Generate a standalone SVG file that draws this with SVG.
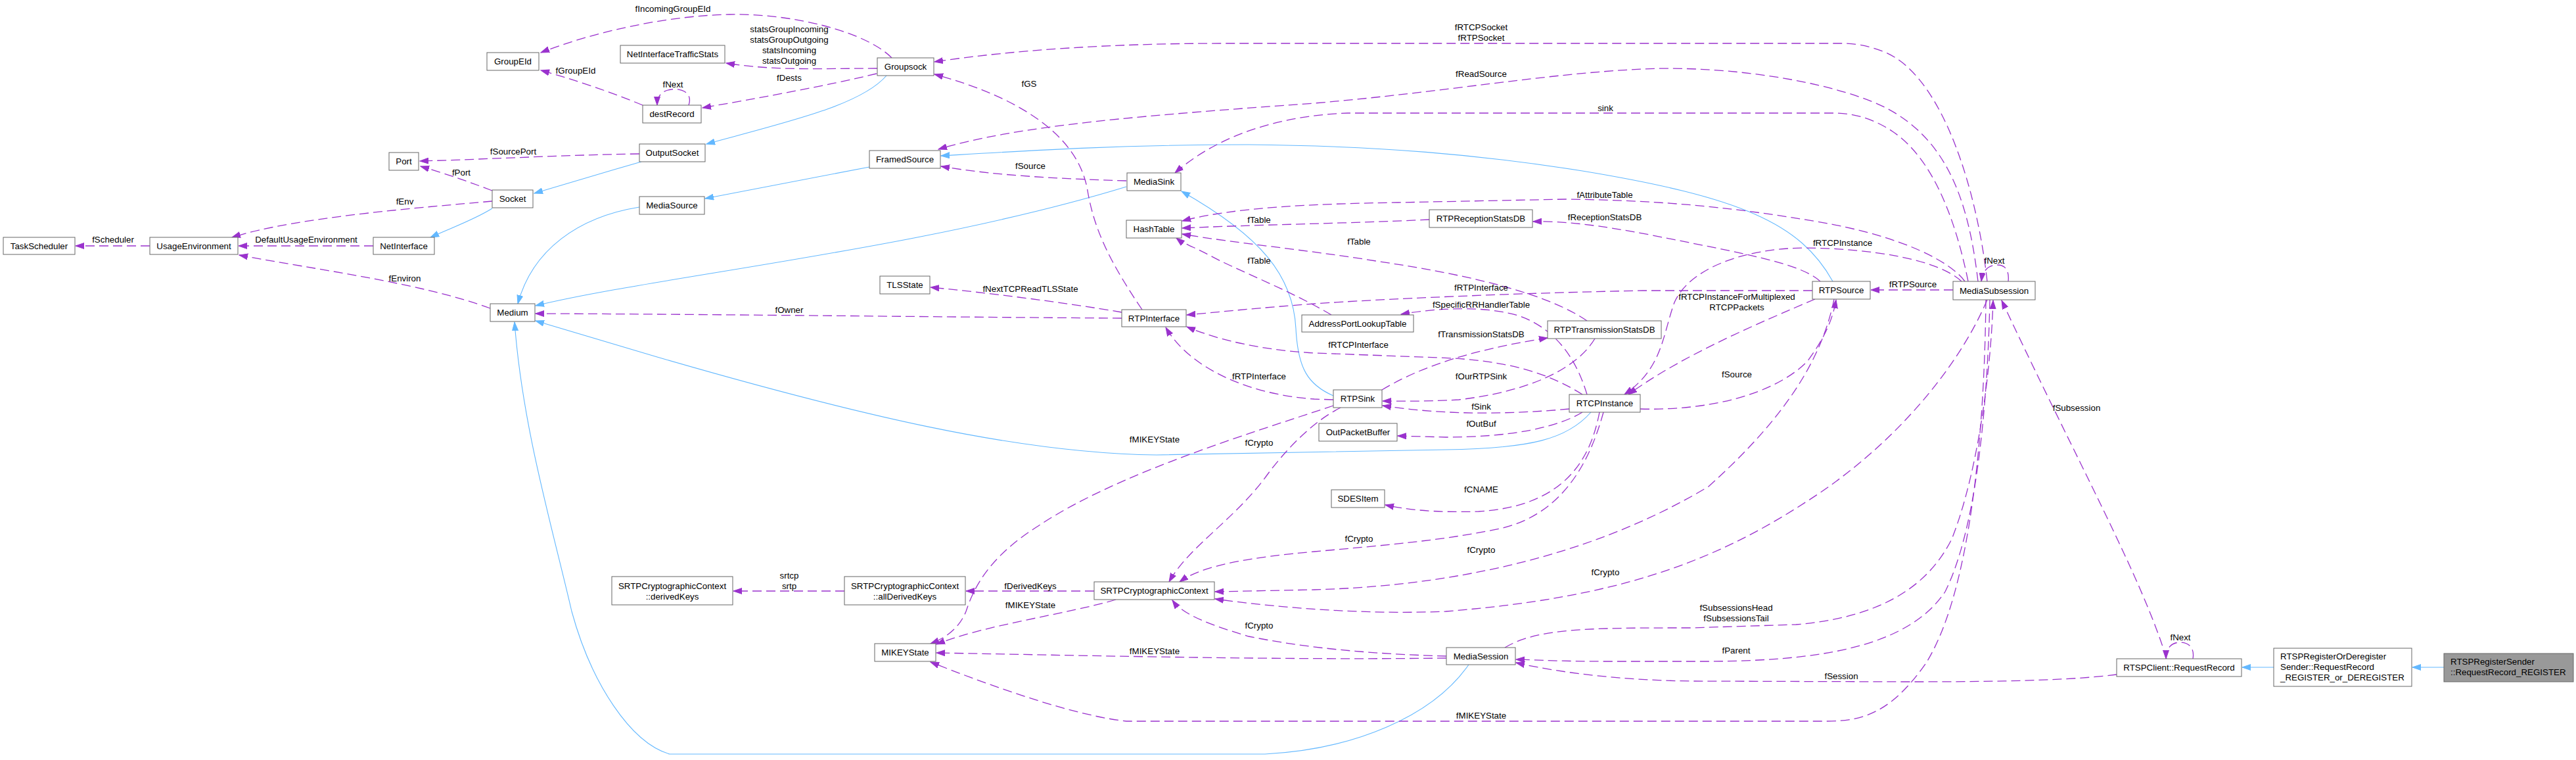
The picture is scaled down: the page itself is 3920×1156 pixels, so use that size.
<svg xmlns="http://www.w3.org/2000/svg" width="3920" height="1156" viewBox="0 0 3920 1156">
<defs>
<style>
text{font-family:"Liberation Sans",Arial,Helvetica,sans-serif;font-size:13.33px;fill:#000}
.node rect{fill:#fff;stroke:#666;stroke-width:1}
.node text{text-anchor:middle}
.node.hl rect{fill:#999}
.node .l{text-anchor:start}
.e{fill:none;stroke:#9a32cd;stroke-width:1.3;stroke-dasharray:14,7;marker-end:url(#ap)}
.b{fill:none;stroke:#63b8ff;stroke-width:1.1;marker-end:url(#ab)}
.lbl text{text-anchor:middle}
</style>
<marker id="ap" markerWidth="14" markerHeight="10" refX="13" refY="5" orient="auto" markerUnits="userSpaceOnUse"><path d="M0,0.5 L13,5 L0,9.5 z" fill="#9a32cd" stroke="#9a32cd" stroke-width="1"/></marker>
<marker id="ab" markerWidth="14" markerHeight="10" refX="13" refY="5" orient="auto" markerUnits="userSpaceOnUse"><path d="M0,0.5 L13,5 L0,9.5 z" fill="#63b8ff" stroke="#63b8ff" stroke-width="1"/></marker>
</defs>
<rect width="3920" height="1156" fill="#fff"/>
<g id="edges">
<path class="e" d="M1357,88 C1320,50 1210,20 1110,22 C1010,24 900,50 823,80"/>
<path class="e" d="M1335,104 C1250,104 1180,108 1105,96"/>
<path class="e" d="M1334,112 C1260,130 1150,150 1069,164"/>
<path class="e" d="M1048,160 C1055,140 1035,134 1022,136 C1005,138 1000,148 1000,160"/>
<path class="e" d="M978,160 C930,140 870,120 823,107"/>
<path class="b" d="M1349,115 C1310,160 1200,185 1075,219"/>
<path class="e" d="M973,234 C850,236 750,242 639,245"/>
<path class="b" d="M976,246 C920,262 860,280 813,294"/>
<path class="e" d="M749,290 C710,275 680,265 640,253"/>
<path class="e" d="M749,306 C650,315 450,330 353,361"/>
<path class="b" d="M749,317 C720,335 690,345 655,361"/>
<path class="e" d="M228,374 L115,374"/>
<path class="e" d="M568,374 L363,374"/>
<path class="e" d="M746,469 C640,430 480,410 364,388"/>
<path class="b" d="M973,315 C880,330 810,380 788,462"/>
<path class="b" d="M1323,254 L1073,302"/>
<path class="b" d="M1714,284 C1400,380 1000,420 815,465"/>
<path class="e" d="M1707,484 C1400,482 1100,478 815,477"/>
<path class="b" d="M2421,627 C2385,668 2330,682 2200,684 L1760,692 C1550,690 1300,630 1000,543 L815,488"/>
<path class="b" d="M2235,1011 C2180,1090 2060,1140 1925,1147 L1019,1147 C960,1130 900,1040 870,930 C840,800 795,650 783,490"/>
<path class="b" d="M2029,602 C1990,585 1975,560 1972,500 C1968,420 1920,360 1798,291"/>
<path class="b" d="M2789,428 C2740,340 2650,300 2408,260 C2250,235 2100,222 1900,220 C1700,220 1550,230 1432,237"/>
<path class="e" d="M1714,275 C1620,272 1520,268 1432,253"/>
<path class="e" d="M1707,475 C1620,460 1500,445 1416,437"/>
<path class="e" d="M1738,471 C1690,400 1665,350 1655,290 C1640,200 1540,145 1422,113"/>
<path class="e" d="M3024,428 C3010,300 2960,120 2870,80 C2840,68 2820,66 2800,66 L1861,66 C1700,66 1550,75 1422,94"/>
<path class="e" d="M3010,428 C2995,300 2960,200 2850,155 C2750,115 2600,100 2500,105 C2350,112 2200,140 2000,157 C1750,175 1550,190 1428,227"/>
<path class="e" d="M2995,428 C2975,330 2940,240 2880,200 C2850,180 2820,172 2790,172 L2051,172 C1960,175 1860,200 1788,263"/>
<path class="e" d="M2990,428 C2970,400 2900,360 2765,337 C2650,318 2550,305 2383,303 L2128,308 C2000,310 1880,315 1799,336"/>
<path class="e" d="M2175,334 C2050,340 1900,342 1799,347"/>
<path class="e" d="M2415,488 C2360,450 2250,420 2100,398 C1990,380 1880,370 1799,356"/>
<path class="e" d="M2026,479 C1960,440 1880,410 1840,388 C1815,375 1800,370 1790,362"/>
<path class="e" d="M2758,442 L2500,442 C2300,446 2100,455 2000,462 C1920,468 1860,474 1806,479"/>
<path class="e" d="M2415,600 C2400,550 2370,500 2310,480 C2260,465 2190,468 2132,478"/>
<path class="e" d="M2103,593 C2150,565 2220,535 2355,514"/>
<path class="e" d="M2408,600 C2360,570 2300,548 2191,544 L2000,537 C1930,533 1860,520 1806,497"/>
<path class="e" d="M2427,515 C2400,560 2330,595 2220,608 C2170,611 2130,610 2104,610"/>
<path class="e" d="M2388,622 C2300,630 2200,632 2104,617"/>
<path class="e" d="M2408,627 C2370,650 2300,665 2200,665 L2127,663"/>
<path class="e" d="M2434,627 C2420,700 2380,770 2250,778 C2180,780 2140,775 2108,768"/>
<path class="e" d="M2029,608 L2000,607 C1900,600 1810,560 1774,498"/>
<path class="e" d="M2029,617 C1900,660 1700,720 1580,800 C1500,850 1480,900 1470,930 C1460,955 1440,970 1416,979"/>
<path class="e" d="M2040,620 C2000,640 1960,680 1930,720 C1880,790 1810,830 1779,885"/>
<path class="e" d="M2440,627 C2420,700 2380,780 2287,803 C2200,822 2100,830 2000,839 C1900,848 1830,860 1795,885"/>
<path class="e" d="M2791,455 C2770,560 2700,650 2600,740 C2450,830 2250,890 2000,897 L1849,900"/>
<path class="e" d="M3024,456 C2980,560 2880,680 2749,763 C2600,860 2450,910 2200,930 C2080,935 1950,925 1849,911"/>
<path class="e" d="M2496,622 C2600,625 2700,600 2750,550 C2780,510 2790,480 2794,456"/>
<path class="e" d="M2762,455 C2680,490 2560,540 2478,600"/>
<path class="e" d="M2985,428 C2950,395 2850,378 2746,377 C2650,378 2570,410 2548,460 C2530,510 2530,560 2472,600"/>
<path class="e" d="M2770,428 C2740,400 2650,385 2510,357 C2430,342 2380,336 2333,337"/>
<path class="e" d="M2972,441 L2847,441"/>
<path class="e" d="M3056,428 C3058,410 3050,403 3040,403 C3025,403 3017,412 3015,428"/>
<path class="e" d="M2290,985 C2340,955 2420,955 2574,955 L2733,950 C2850,940 2930,900 2970,820 C3010,720 3030,560 3033,457"/>
<path class="e" d="M3028,456 C3025,600 3010,800 2960,900 C2900,990 2750,1005 2600,1006 L2446,1006 C2380,1006 2340,1004 2307,1003"/>
<path class="e" d="M3221,1026 C3150,1035 3050,1037 2900,1037 L2574,1036 C2480,1035 2380,1025 2307,1008"/>
<path class="e" d="M3022,456 C3020,650 3000,900 2930,1010 C2880,1080 2840,1097 2780,1097 L1714,1097 C1650,1090 1550,1060 1416,1007"/>
<path class="e" d="M2201,1001 C1950,1004 1700,998 1425,993"/>
<path class="e" d="M2201,998 C2100,995 2000,988 1900,968 C1840,950 1800,935 1784,913"/>
<path class="e" d="M1665,899 L1470,899"/>
<path class="e" d="M1698,912 C1620,935 1500,950 1425,980"/>
<path class="e" d="M1285,899 L1116,899"/>
<path class="e" d="M3297,1002 C3260,880 3160,700 3046,457"/>
<path class="e" d="M3337,1002 C3340,985 3330,977 3318,977 C3305,977 3296,985 3296,1002"/>
<path class="b" d="M3460,1015 L3412,1015"/>
<path class="b" d="M3719,1015 L3671,1015"/>
</g>
<g id="labels" class="lbl">
<text x="1024" y="18">fIncomingGroupEId</text>
<text x="1201" y="49">statsGroupIncoming</text>
<text x="1201" y="65">statsGroupOutgoing</text>
<text x="1201" y="81">statsIncoming</text>
<text x="1201" y="97">statsOutgoing</text>
<text x="1201" y="123">fDests</text>
<text x="1024" y="133">fNext</text>
<text x="876" y="112">fGroupEId</text>
<text x="781" y="235">fSourcePort</text>
<text x="702" y="267">fPort</text>
<text x="616" y="311">fEnv</text>
<text x="172" y="369">fScheduler</text>
<text x="466" y="369">DefaultUsageEnvironment</text>
<text x="616" y="428">fEnviron</text>
<text x="1201" y="476">fOwner</text>
<text x="1568" y="444">fNextTCPReadTLSState</text>
<text x="1566" y="132">fGS</text>
<text x="1568" y="257">fSource</text>
<text x="2254" y="46">fRTCPSocket</text>
<text x="2254" y="62">fRTPSocket</text>
<text x="2254" y="117">fReadSource</text>
<text x="2443" y="169">sink</text>
<text x="2442" y="301">fAttributeTable</text>
<text x="1916" y="339">fTable</text>
<text x="2068" y="372">fTable</text>
<text x="1916" y="401">fTable</text>
<text x="2442" y="335">fReceptionStatsDB</text>
<text x="2804" y="374">fRTCPInstance</text>
<text x="2254" y="442">fRTPInterface</text>
<text x="2254" y="468">fSpecificRRHandlerTable</text>
<text x="2254" y="513">fTransmissionStatsDB</text>
<text x="2067" y="529">fRTCPInterface</text>
<text x="2254" y="577">fOurRTPSink</text>
<text x="2254" y="623">fSink</text>
<text x="2254" y="649">fOutBuf</text>
<text x="2254" y="749">fCNAME</text>
<text x="1916" y="577">fRTPInterface</text>
<text x="1757" y="673">fMIKEYState</text>
<text x="1916" y="678">fCrypto</text>
<text x="2068" y="824">fCrypto</text>
<text x="2254" y="841">fCrypto</text>
<text x="2443" y="875">fCrypto</text>
<text x="2643" y="574">fSource</text>
<text x="2643" y="456">fRTCPInstanceForMultiplexed</text>
<text x="2643" y="472">RTCPPackets</text>
<text x="2911" y="437">fRTPSource</text>
<text x="3035" y="401">fNext</text>
<text x="2642" y="929">fSubsessionsHead</text>
<text x="2642" y="945">fSubsessionsTail</text>
<text x="2642" y="994">fParent</text>
<text x="2802" y="1033">fSession</text>
<text x="2254" y="1093">fMIKEYState</text>
<text x="1757" y="995">fMIKEYState</text>
<text x="1916" y="956">fCrypto</text>
<text x="1568" y="896">fDerivedKeys</text>
<text x="1568" y="925">fMIKEYState</text>
<text x="1201" y="880">srtcp</text>
<text x="1201" y="896">srtp</text>
<text x="3160" y="625">fSubsession</text>
<text x="3318" y="974">fNext</text>
</g>
<g id="n-GroupEId" class="node"><rect x="741" y="80" width="79" height="27"/><text x="780.5" y="98">GroupEId</text></g>
<g id="n-NetInterfaceTrafficStats" class="node"><rect x="944" y="69" width="159" height="27"/><text x="1023.5" y="87">NetInterfaceTrafficStats</text></g>
<g id="n-destRecord" class="node"><rect x="978" y="160" width="89" height="27"/><text x="1022.5" y="178">destRecord</text></g>
<g id="n-OutputSocket" class="node"><rect x="973" y="219" width="100" height="27"/><text x="1023" y="237">OutputSocket</text></g>
<g id="n-MediaSource" class="node"><rect x="973" y="299" width="99" height="27"/><text x="1022.5" y="317">MediaSource</text></g>
<g id="n-Groupsock" class="node"><rect x="1335" y="88" width="86" height="27"/><text x="1378" y="106">Groupsock</text></g>
<g id="n-FramedSource" class="node"><rect x="1323" y="229" width="108" height="27"/><text x="1377" y="247">FramedSource</text></g>
<g id="n-MediaSink" class="node"><rect x="1715" y="263" width="82" height="27"/><text x="1756" y="281">MediaSink</text></g>
<g id="n-HashTable" class="node"><rect x="1714" y="335" width="84" height="27"/><text x="1756" y="353">HashTable</text></g>
<g id="n-RTPReceptionStatsDB" class="node"><rect x="2175" y="319" width="157" height="27"/><text x="2253.5" y="337">RTPReceptionStatsDB</text></g>
<g id="n-MediaSubsession" class="node"><rect x="2972" y="428" width="125" height="28"/><text x="3034.5" y="446.5">MediaSubsession</text></g>
<g id="n-Medium" class="node"><rect x="746" y="462" width="68" height="27"/><text x="780" y="480">Medium</text></g>
<g id="n-TLSState" class="node"><rect x="1339" y="420" width="76" height="27"/><text x="1377" y="438">TLSState</text></g>
<g id="n-RTPInterface" class="node"><rect x="1707" y="471" width="98" height="26"/><text x="1756" y="488.5">RTPInterface</text></g>
<g id="n-AddressPortLookupTable" class="node"><rect x="1981" y="479" width="170" height="26"/><text x="2066" y="496.5">AddressPortLookupTable</text></g>
<g id="n-RTPTransmissionStatsDB" class="node"><rect x="2355" y="488" width="173" height="27"/><text x="2441.5" y="506">RTPTransmissionStatsDB</text></g>
<g id="n-RTPSource" class="node"><rect x="2758" y="428" width="88" height="27"/><text x="2802" y="446">RTPSource</text></g>
<g id="n-RTPSink" class="node"><rect x="2029" y="593" width="74" height="27"/><text x="2066" y="611">RTPSink</text></g>
<g id="n-RTCPInstance" class="node"><rect x="2388" y="600" width="108" height="27"/><text x="2442" y="618">RTCPInstance</text></g>
<g id="n-OutPacketBuffer" class="node"><rect x="2007" y="644" width="119" height="27"/><text x="2066.5" y="662">OutPacketBuffer</text></g>
<g id="n-SDESItem" class="node"><rect x="2026" y="745" width="81" height="27"/><text x="2066.5" y="763">SDESItem</text></g>
<g id="n-derivedKeys" class="node"><rect x="931" y="877" width="184" height="43"/><text x="1023" y="896">SRTPCryptographicContext</text><text x="1023" y="912">::derivedKeys</text></g>
<g id="n-allDerivedKeys" class="node"><rect x="1285" y="877" width="184" height="43"/><text x="1377" y="896">SRTPCryptographicContext</text><text x="1377" y="912">::allDerivedKeys</text></g>
<g id="n-SRTPCryptographicContext" class="node"><rect x="1665" y="885" width="183" height="27"/><text x="1756.5" y="903">SRTPCryptographicContext</text></g>
<g id="n-MIKEYState" class="node"><rect x="1331" y="979" width="93" height="27"/><text x="1377.5" y="997">MIKEYState</text></g>
<g id="n-MediaSession" class="node"><rect x="2201" y="985" width="105" height="26"/><text x="2253.5" y="1002.5">MediaSession</text></g>
<g id="n-RequestRecord" class="node"><rect x="3221" y="1002" width="190" height="27"/><text x="3316" y="1020">RTSPClient::RequestRecord</text></g>
<g id="n-RequestRecord_REGISTER_or_DEREGISTER" class="node"><rect x="3460" y="986" width="210" height="58"/><text class="l" x="3470" y="1003">RTSPRegisterOrDeregister</text><text class="l" x="3470" y="1019">Sender::RequestRecord</text><text class="l" x="3470" y="1035">_REGISTER_or_DEREGISTER</text></g>
<g id="n-RequestRecord_REGISTER" class="node hl"><rect x="3719" y="994" width="197" height="43"/><text class="l" x="3729" y="1011">RTSPRegisterSender</text><text class="l" x="3729" y="1027">::RequestRecord_REGISTER</text></g>
<g id="n-Port" class="node"><rect x="592" y="232" width="45" height="27"/><text x="614.5" y="250">Port</text></g>
<g id="n-Socket" class="node"><rect x="749" y="289" width="62" height="27"/><text x="780" y="307">Socket</text></g>
<g id="n-TaskScheduler" class="node"><rect x="5" y="361" width="109" height="26"/><text x="59.5" y="378.5">TaskScheduler</text></g>
<g id="n-UsageEnvironment" class="node"><rect x="228" y="361" width="134" height="26"/><text x="295" y="378.5">UsageEnvironment</text></g>
<g id="n-NetInterface" class="node"><rect x="568" y="361" width="93" height="26"/><text x="614.5" y="378.5">NetInterface</text></g>
</svg>
